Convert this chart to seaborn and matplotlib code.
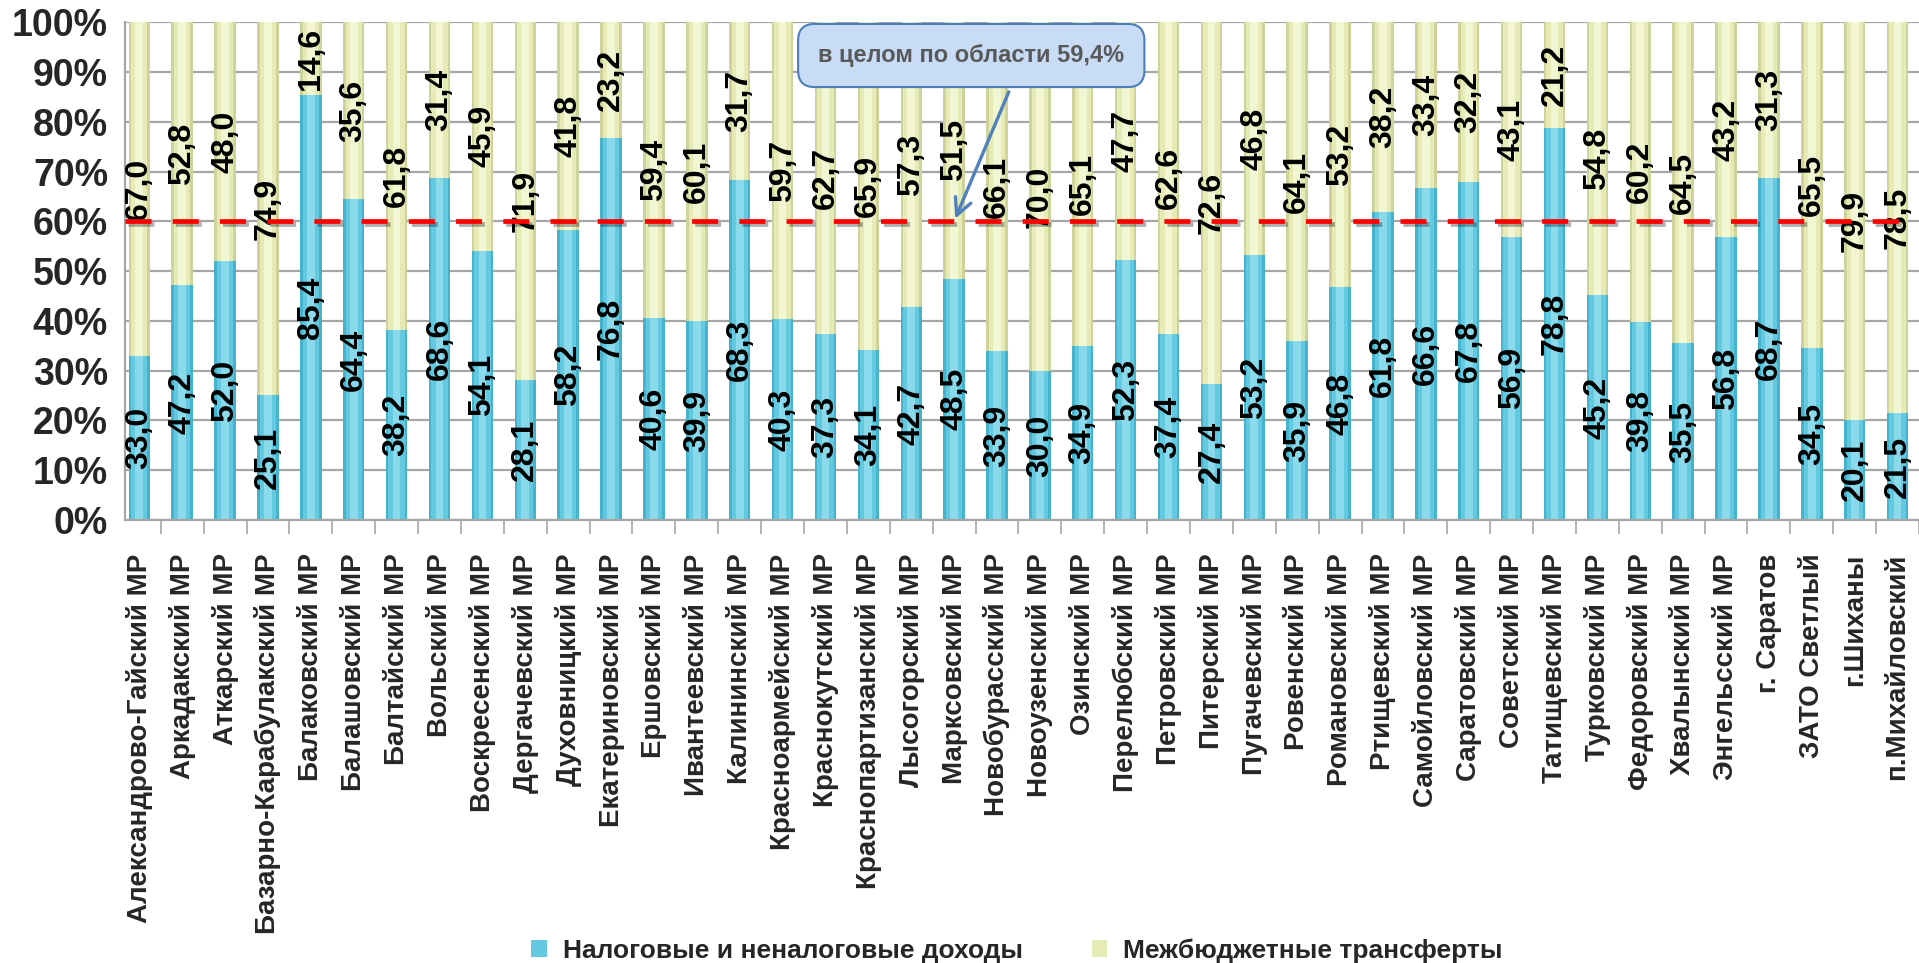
import numpy as np
import pandas as pd
import matplotlib
matplotlib.use("Agg")
import matplotlib.pyplot as plt
import matplotlib.patheffects as pe
from matplotlib.patches import Patch
from matplotlib.ticker import PercentFormatter
import seaborn as sns

# данные: доля налоговых/неналоговых доходов и межбюджетных трансфертов, %
districts = [
    "Александрово-Гайский МР", "Аркадакский МР", "Аткарский МР",
    "Базарно-Карабулакский МР", "Балаковский МР", "Балашовский МР",
    "Балтайский МР", "Вольский МР", "Воскресенский МР", "Дергачевский МР",
    "Духовницкий МР", "Екатериновский МР", "Ершовский МР", "Ивантеевский МР",
    "Калининский МР", "Красноармейский МР", "Краснокутский МР",
    "Краснопартизанский МР", "Лысогорский МР", "Марксовский МР",
    "Новобурасский МР", "Новоузенский МР", "Озинский МР", "Перелюбский МР",
    "Петровский МР", "Питерский МР", "Пугачевский МР", "Ровенский МР",
    "Романовский МР", "Ртищевский МР", "Самойловский МР", "Саратовский МР",
    "Советский МР", "Татищевский МР", "Турковский МР", "Федоровский МР",
    "Хвалынский МР", "Энгельсский МР", "г. Саратов", "ЗАТО Светлый",
    "г.Шиханы", "п.Михайловский",
]
tax_share = [
    33.0, 47.2, 52.0, 25.1, 85.4, 64.4, 38.2, 68.6, 54.1, 28.1,
    58.2, 76.8, 40.6, 39.9, 68.3, 40.3, 37.3, 34.1, 42.7, 48.5,
    33.9, 30.0, 34.9, 52.3, 37.4, 27.4, 53.2, 35.9, 46.8, 61.8,
    66.6, 67.8, 56.9, 78.8, 45.2, 39.8, 35.5, 56.8, 68.7, 34.5,
    20.1, 21.5,
]
transfer_share = [
    67.0, 52.8, 48.0, 74.9, 14.6, 35.6, 61.8, 31.4, 45.9, 71.9,
    41.8, 23.2, 59.4, 60.1, 31.7, 59.7, 62.7, 65.9, 57.3, 51.5,
    66.1, 70.0, 65.1, 47.7, 62.6, 72.6, 46.8, 64.1, 53.2, 38.2,
    33.4, 32.2, 43.1, 21.2, 54.8, 60.2, 64.5, 43.2, 31.3, 65.5,
    79.9, 78.5,
]
series_names = ["Налоговые и неналоговые доходы", "Межбюджетные трансферты"]
region_label = "в целом по области 59,4%"
region_level = 60

# цилиндры: тёмный край -> основной цвет -> блик
BLUE_SHADES = ["#45B3CC", "#62C9E0", "#8ADAEB"]
YELLOW_SHADES = ["#CDD39A", "#E6EBB6", "#F3F6D3"]
SHADE_WIDTHS = [0.5, 0.38, 0.18]
GRID = "#A6A6A6"

sns.set_theme(style="white")
plt.rcParams["font.family"] = ["Liberation Sans", "DejaVu Sans"]

df = pd.DataFrame({"district": districts, "tax": tax_share, "transfers": transfer_share})
df["total"] = df["tax"] + df["transfers"]

fig = plt.figure(figsize=(19.19, 9.63), dpi=100)
ax = fig.add_axes([0.065, 0.46, 0.935, 0.517])

for col, shades in [("total", YELLOW_SHADES), ("tax", BLUE_SHADES)]:
    for shade, w in zip(shades, SHADE_WIDTHS):
        sns.barplot(data=df, x="district", y=col, color=shade, saturation=1,
                    width=w, linewidth=0, ax=ax, zorder=2)

# подписи значений
for i, row in df.iterrows():
    for y, v in [(row["tax"] / 2, row["tax"]),
                 (row["tax"] + row["transfers"] / 2, row["transfers"])]:
        ax.text(i, y, f"{v:.1f}".replace(".", ","), rotation=90, ha="center",
                va="center", fontsize=23, fontweight="bold",
                color="black", zorder=4)

ax.set_xlim(-0.34, len(districts) - 0.58)
ax.set_ylim(0, 100)
ax.set_yticks(range(0, 101, 10))
ax.yaxis.set_major_formatter(PercentFormatter(decimals=0))
ax.set_axisbelow(True)
ax.yaxis.grid(True, color=GRID, lw=1.6)
ax.xaxis.grid(False)

ax.tick_params(axis="y", length=8, width=1.2, color=GRID, pad=4, labelsize=27)
for lbl in ax.get_yticklabels():
    lbl.set_fontweight("bold")

ax.set_xticks(range(len(districts)))
ax.set_xticklabels(districts, rotation=90, fontsize=20, fontweight="bold")
ax.set_xticks(np.arange(len(districts)) + 0.5, minor=True)
ax.tick_params(axis="x", which="major", length=0, pad=24)
ax.tick_params(axis="x", which="minor", length=10, width=1.2, color=GRID, bottom=True)
ax.set_xlabel("")
ax.set_ylabel("")

for side in ["top", "right"]:
    ax.spines[side].set_visible(False)
for side in ["left", "bottom"]:
    ax.spines[side].set_color(GRID)
    ax.spines[side].set_linewidth(1.6)

# средний уровень по области
ax.axhline(region_level, color="#FF0000", lw=3.4, dashes=(5.5, 4.5), zorder=5,
           path_effects=[pe.SimpleLineShadow(offset=(2, -2), alpha=0.35), pe.Normal()])

ax.text(19.4, 93.3, region_label, ha="center", va="center", fontsize=17,
        fontweight="bold", color="#595959", zorder=7,
        bbox=dict(boxstyle="round,pad=0.85,rounding_size=0.7", fc="#C9DCF5",
                  ec="#4A7EBB", lw=1.5))
ax.annotate("", xy=(19.0, region_level), xytext=(20.3, 86.5), zorder=6,
            arrowprops=dict(arrowstyle="->,head_length=1.0,head_width=0.5",
                            color="#4F81BD", lw=2.4))

handles = [Patch(fc=BLUE_SHADES[1], ec="none"), Patch(fc=YELLOW_SHADES[1], ec="none")]
fig.legend(handles, series_names, loc="lower center", bbox_to_anchor=(0.53, -0.022),
           ncol=2, frameon=False, prop={"size": 19, "weight": "bold"},
           handlelength=0.6, handleheight=0.6, handletextpad=0.6,
           columnspacing=2.6, borderpad=0.3)

fig.savefig("out.png", dpi=100)
